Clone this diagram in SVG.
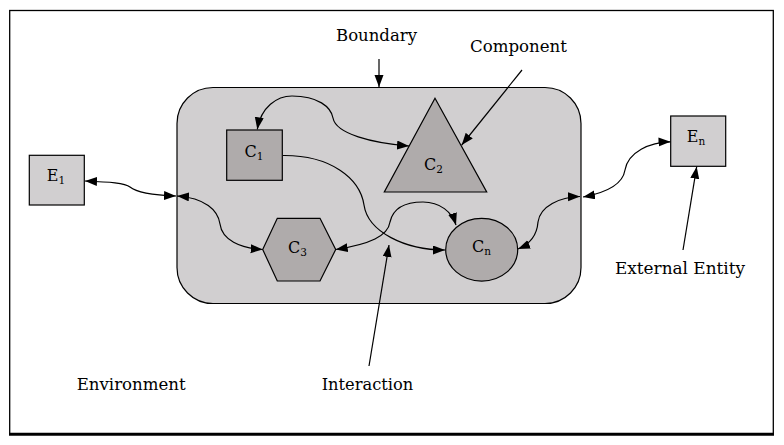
<svg xmlns="http://www.w3.org/2000/svg" width="784" height="445" viewBox="0 0 784 445">
<defs>
<marker id="ah" markerUnits="userSpaceOnUse" markerWidth="13" markerHeight="10" refX="12" refY="4.5" orient="auto-start-reverse">
<path d="M0,0 L12,4.5 L0,9 Z" fill="#000"/>
</marker>
<style>
text{font-family:'DejaVu Serif','Liberation Serif',serif;font-size:16px;fill:#000}
.nl{text-anchor:middle}
.sub{font-size:10.5px}
.light{fill:#d1cfd0;stroke:#000;stroke-width:1.2}
.dark{fill:#afabab;stroke:#000;stroke-width:1.2}
.con{fill:none;stroke:#000;stroke-width:1.2}
.two{marker-start:url(#ah);marker-end:url(#ah)}
.one{marker-end:url(#ah)}
</style>
</defs>
<rect width="784" height="445" fill="#fff"/>
<g id="frame">
<rect x="9.7" y="10.5" width="763.6" height="423.5" fill="none" stroke="#000" stroke-width="1.3"/>
<line x1="9" y1="434.3" x2="774" y2="434.3" stroke="#000" stroke-width="3"/>
</g>
<g id="boundary">
<rect class="light" x="177" y="87.5" width="404" height="216" rx="36" ry="36"/>
</g>
<g id="C1">
<rect class="dark" x="226.7" y="130" width="55.6" height="50.3"/>
<text class="nl" x="254" y="156.5">C<tspan class="sub" dy="3">1</tspan></text>
</g>
<g id="C2">
<polygon class="dark" points="435,98.3 486.7,192 384.3,192"/>
<text class="nl" x="433.5" y="170">C<tspan class="sub" dy="3">2</tspan></text>
</g>
<g id="C3">
<polygon class="dark" points="262.7,249.5 277.3,218.3 320,218.3 335.7,249.5 320,281 277.3,281"/>
<text class="nl" x="297.5" y="252.5">C<tspan class="sub" dy="3">3</tspan></text>
</g>
<g id="Cn">
<ellipse class="dark" cx="481.7" cy="249.7" rx="36" ry="31.4"/>
<text class="nl" x="481.5" y="251.5">C<tspan class="sub" dy="3">n</tspan></text>
</g>
<g id="E1">
<rect class="light" x="29.3" y="155.3" width="55" height="49.7"/>
<text class="nl" x="56" y="180.5">E<tspan class="sub" dy="3">1</tspan></text>
</g>
<g id="En">
<rect class="light" x="670.7" y="116" width="55" height="50.3"/>
<text class="nl" x="696" y="141.5">E<tspan class="sub" dy="3">n</tspan></text>
</g>
<g id="connectors">
<path class="con two" d="M257.3,129.3 C261,107 277,96 292,96 C318,96 331,107 333,118 C336,134 372,143 409,146"/>
<path class="con one" d="M283,155.5 C330,155 360,178 364,205 C368,232 405,250 445,250"/>
<path class="con two" d="M335.7,249.5 C370,244 388,236 390,222 C393,208 405,202 423,202 C440,202 452,212 456,225"/>
<path class="con two" d="M177,196 C205,198 218,210 220,224 C222,240 240,248 262.7,249.5"/>
<path class="con two" d="M518,249 C530,244 537,235 538,222 C540,206 560,197 580,196.5"/>
<path class="con two" d="M85,181 C110,182 125,183 130,187 C136,192 150,195 176,196"/>
<path class="con two" d="M583,197 C610,192 623,183 625,170 C628,152 650,142 670.5,141.8"/>
<path class="con one" d="M379,59 L379,87"/>
<path class="con one" d="M522,70 L461.7,145"/>
<path class="con one" d="M369,366 L389,245"/>
<path class="con one" d="M683,250 L696.7,166.7"/>
</g>
<g id="labels">
<text x="336" y="40.7" textLength="81" lengthAdjust="spacingAndGlyphs">Boundary</text>
<text x="470" y="52.3" textLength="97" lengthAdjust="spacingAndGlyphs">Component</text>
<text x="615" y="274" textLength="130" lengthAdjust="spacingAndGlyphs">External Entity</text>
<text x="76.7" y="390" textLength="109" lengthAdjust="spacingAndGlyphs">Environment</text>
<text x="321.7" y="390" textLength="91.6" lengthAdjust="spacingAndGlyphs">Interaction</text>
</g>
</svg>
